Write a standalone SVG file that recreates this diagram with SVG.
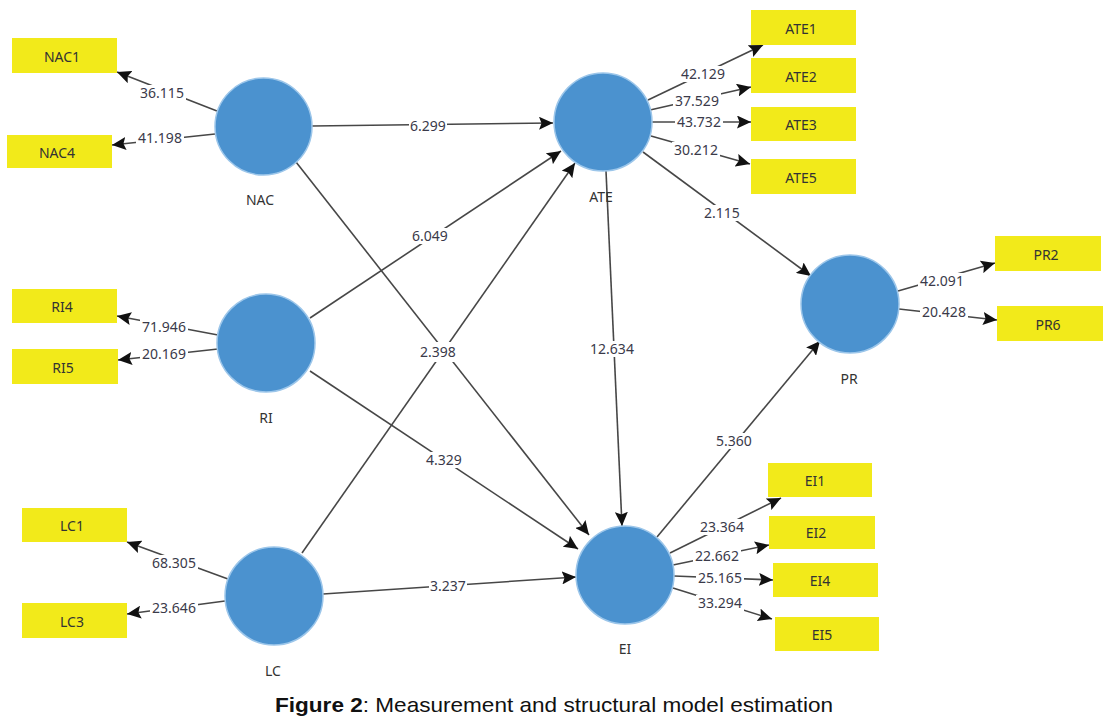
<svg xmlns="http://www.w3.org/2000/svg" width="1113" height="723" viewBox="0 0 1113 723">
<style>
.lv{fill:#4b92cf;stroke:#9cc6ea;stroke-width:1.5}
.ind{fill:#f2ea1a}
.it{font-family:"Noto Sans","Open Sans",sans-serif;font-size:14px;fill:#333;text-anchor:middle}
.nl{font-family:"Noto Sans","Open Sans",sans-serif;font-size:14px;fill:#333;text-anchor:middle}
.e{stroke:#474747;stroke-width:1.6;fill:none;marker-end:url(#ah)}
.lb{fill:#fff}
.et{font-family:"Noto Sans","Open Sans",sans-serif;font-size:14px;fill:#3a3a4a;text-anchor:middle}
.cap{font-family:"Liberation Sans",Arial,sans-serif;font-size:21px;fill:#111}
</style>
<defs>
<marker id="ah" markerUnits="userSpaceOnUse" markerWidth="15" markerHeight="13" refX="14" refY="6.5" orient="auto">
<path d="M0,0 L14,6.5 L0,13 L2.5,6.5 z" fill="#111"/>
</marker>
</defs>
<rect width="1113" height="723" fill="#fff"/>
<g id="connectors">
<line class="e" x1="217" y1="111" x2="117" y2="72"/>
<line class="e" x1="215" y1="134" x2="112" y2="145"/>
<line class="e" x1="218" y1="335" x2="117" y2="316"/>
<line class="e" x1="218" y1="349" x2="118" y2="360"/>
<line class="e" x1="228" y1="579" x2="127" y2="542"/>
<line class="e" x1="225" y1="601" x2="127" y2="614"/>
<line class="e" x1="648" y1="100" x2="763" y2="45"/>
<line class="e" x1="650" y1="110" x2="751" y2="87"/>
<line class="e" x1="652" y1="122" x2="751" y2="122"/>
<line class="e" x1="651" y1="136" x2="750" y2="164"/>
<line class="e" x1="670" y1="553" x2="781" y2="498"/>
<line class="e" x1="673" y1="565" x2="769" y2="545"/>
<line class="e" x1="674" y1="576" x2="773" y2="580"/>
<line class="e" x1="673" y1="588" x2="772" y2="619"/>
<line class="e" x1="898" y1="291" x2="995" y2="263"/>
<line class="e" x1="899" y1="309" x2="997" y2="320"/>
<line class="e" x1="312" y1="126" x2="553" y2="123"/>
<line class="e" x1="296" y1="162" x2="589" y2="535"/>
<line class="e" x1="310" y1="318" x2="561" y2="151"/>
<line class="e" x1="310" y1="371" x2="578" y2="549"/>
<line class="e" x1="302" y1="553" x2="575" y2="163"/>
<line class="e" x1="323" y1="594" x2="576" y2="577"/>
<line class="e" x1="606" y1="171" x2="622" y2="526"/>
<line class="e" x1="643" y1="152" x2="811" y2="276"/>
<line class="e" x1="657" y1="537" x2="820" y2="341"/>
<g id="edge-labels">
<rect class="lb" x="138" y="85" width="48" height="16"/><text class="et" x="162" y="98">36.115</text>
<rect class="lb" x="136" y="130" width="48" height="16"/><text class="et" x="160" y="143">41.198</text>
<rect class="lb" x="140" y="319" width="48" height="16"/><text class="et" x="164" y="332">71.946</text>
<rect class="lb" x="140" y="346" width="48" height="16"/><text class="et" x="164" y="359">20.169</text>
<rect class="lb" x="150" y="555" width="48" height="16"/><text class="et" x="174" y="568">68.305</text>
<rect class="lb" x="150" y="600" width="48" height="16"/><text class="et" x="174" y="613">23.646</text>
<rect class="lb" x="679" y="66" width="48" height="16"/><text class="et" x="703" y="79">42.129</text>
<rect class="lb" x="673" y="93" width="48" height="16"/><text class="et" x="697" y="106">37.529</text>
<rect class="lb" x="675" y="114" width="48" height="16"/><text class="et" x="699" y="127">43.732</text>
<rect class="lb" x="672" y="142" width="48" height="16"/><text class="et" x="696" y="155">30.212</text>
<rect class="lb" x="698" y="519" width="48" height="16"/><text class="et" x="722" y="532">23.364</text>
<rect class="lb" x="693" y="548" width="48" height="16"/><text class="et" x="717" y="561">22.662</text>
<rect class="lb" x="696" y="570" width="48" height="16"/><text class="et" x="720" y="583">25.165</text>
<rect class="lb" x="696" y="595" width="48" height="16"/><text class="et" x="720" y="608">33.294</text>
<rect class="lb" x="918" y="273" width="48" height="16"/><text class="et" x="942" y="286">42.091</text>
<rect class="lb" x="920" y="304" width="48" height="16"/><text class="et" x="944" y="317">20.428</text>
<rect class="lb" x="409" y="118" width="38" height="16"/><text class="et" x="428" y="131">6.299</text>
<rect class="lb" x="411" y="228" width="38" height="16"/><text class="et" x="430" y="241">6.049</text>
<rect class="lb" x="416" y="342" width="44" height="20"/><text class="et" x="438" y="357">2.398</text>
<rect class="lb" x="425" y="452" width="38" height="16"/><text class="et" x="444" y="465">4.329</text>
<rect class="lb" x="429" y="578" width="38" height="16"/><text class="et" x="448" y="591">3.237</text>
<rect class="lb" x="589" y="341" width="46" height="16"/><text class="et" x="612" y="354">12.634</text>
<rect class="lb" x="703" y="205" width="38" height="16"/><text class="et" x="722" y="218">2.115</text>
<rect class="lb" x="715" y="433" width="38" height="16"/><text class="et" x="734" y="446">5.360</text>
</g>
</g>
<g id="NAC"><circle class="lv" cx="263.5" cy="126.5" r="48.5"/><text class="nl" x="260" y="205">NAC</text></g>
<g id="RI"><circle class="lv" cx="266" cy="343" r="49"/><text class="nl" x="266" y="423">RI</text></g>
<g id="LC"><circle class="lv" cx="274" cy="596" r="49"/><text class="nl" x="273" y="676">LC</text></g>
<g id="ATE"><circle class="lv" cx="603" cy="122" r="49"/><text class="nl" x="601" y="202">ATE</text></g>
<g id="EI"><circle class="lv" cx="625" cy="575" r="49"/><text class="nl" x="625" y="654">EI</text></g>
<g id="PR"><circle class="lv" cx="850" cy="304" r="49"/><text class="nl" x="849" y="384">PR</text></g>
<g id="NAC1"><rect class="ind" x="12" y="38" width="105" height="35"/><text class="it" x="62" y="62">NAC1</text></g>
<g id="NAC4"><rect class="ind" x="7" y="135" width="105" height="33"/><text class="it" x="57" y="158">NAC4</text></g>
<g id="RI4"><rect class="ind" x="12" y="289" width="105" height="34"/><text class="it" x="62" y="312">RI4</text></g>
<g id="RI5"><rect class="ind" x="12" y="349" width="106" height="35"/><text class="it" x="63" y="373">RI5</text></g>
<g id="LC1"><rect class="ind" x="22" y="508" width="105" height="34"/><text class="it" x="72" y="531">LC1</text></g>
<g id="LC3"><rect class="ind" x="22" y="603" width="105" height="35"/><text class="it" x="72" y="627">LC3</text></g>
<g id="ATE1"><rect class="ind" x="751" y="10" width="105" height="35"/><text class="it" x="801" y="34">ATE1</text></g>
<g id="ATE2"><rect class="ind" x="751" y="58" width="105" height="35"/><text class="it" x="801" y="82">ATE2</text></g>
<g id="ATE3"><rect class="ind" x="751" y="107" width="105" height="34"/><text class="it" x="801" y="130">ATE3</text></g>
<g id="ATE5"><rect class="ind" x="751" y="159" width="105" height="35"/><text class="it" x="801" y="183">ATE5</text></g>
<g id="EI1"><rect class="ind" x="768" y="463" width="104" height="34"/><text class="it" x="815" y="486">EI1</text></g>
<g id="EI2"><rect class="ind" x="769" y="516" width="106" height="33"/><text class="it" x="816" y="538">EI2</text></g>
<g id="EI4"><rect class="ind" x="773" y="563" width="105" height="34"/><text class="it" x="820" y="586">EI4</text></g>
<g id="EI5"><rect class="ind" x="775" y="617" width="104" height="34"/><text class="it" x="822" y="640">EI5</text></g>
<g id="PR2"><rect class="ind" x="995" y="236" width="106" height="35"/><text class="it" x="1046" y="260">PR2</text></g>
<g id="PR6"><rect class="ind" x="997" y="306" width="106" height="35"/><text class="it" x="1048" y="330">PR6</text></g>
<text class="cap" x="275" y="712" textLength="558" lengthAdjust="spacingAndGlyphs"><tspan font-weight="bold">Figure 2</tspan>: Measurement and structural model estimation</text>
</svg>
